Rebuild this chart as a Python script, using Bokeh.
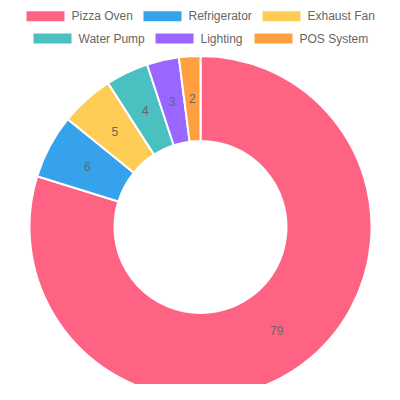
import math
from bokeh.plotting import figure
from bokeh.models import Range1d, ColumnDataSource
from bokeh.core.properties import value
from bokeh.embed import file_html
from bokeh.resources import INLINE

labels = ["Pizza Oven", "Refrigerator", "Exhaust Fan", "Water Pump", "Lighting", "POS System"]
values = [79, 6, 5, 4, 3, 2]
colors = ["#ff6384", "#36a2eb", "#ffcd56", "#4bc0c0", "#9966ff", "#ff9f40"]

# layout (picture pixel coordinates, y measured downward from top)
CX, CY = 200.0, 226.5
R_OUT, R_IN = 171.0, 86.0
W = 384.0
H = 384.0

p = figure(width=384, height=384, output_backend="svg", toolbar_location=None,
           x_range=Range1d(0, W), y_range=Range1d(0, H),
           min_border=0, outline_line_color=None)
p.axis.visible = False
p.grid.visible = False
p.background_fill_color = "white"
p.border_fill_color = "white"

total = float(sum(values))
starts, ends, tx, ty = [], [], [], []
cum = 0.0
for v in values:
    a0 = math.pi / 2 - cum / total * 2 * math.pi
    a1 = math.pi / 2 - (cum + v) / total * 2 * math.pi
    starts.append(a0)
    ends.append(a1)
    mid = (a0 + a1) / 2
    rm = (R_IN + R_OUT) / 2
    tx.append(CX + rm * math.cos(mid))
    ty.append(H - CY + rm * math.sin(mid))
    cum += v

src = ColumnDataSource(dict(start=starts, end=ends, color=colors,
                            tx=tx, ty=ty, txt=[str(v) for v in values]))
p.annular_wedge(x=CX, y=H - CY, inner_radius=R_IN, outer_radius=R_OUT,
                start_angle="start", end_angle="end", direction="clock",
                fill_color="color", line_color="white", line_width=2, source=src)
p.text(x="tx", y="ty", text="txt", source=src, text_align="center",
       text_baseline="middle", text_font=value("Liberation Sans"),
       text_font_size="12px", text_color="#666666")

# legend (manual, Chart.js-like)
box_x = [26, 143, 262, 33, 155, 254]
row_y = [15.7, 15.7, 15.7, 38, 38, 38]
leg = ColumnDataSource(dict(bx=[b + 19 for b in box_x], by=[H - y for y in row_y],
                            lx=[b + 45 for b in box_x], color=colors, name=labels))
p.rect(x="bx", y="by", width=38, height=10, fill_color="color", line_color=None, source=leg)
p.text(x="lx", y="by", text="name", source=leg, text_align="left",
       text_baseline="middle", text_font=value("Liberation Sans"),
       text_font_size="12px", text_color="#666666")

open("out.html", "w").write(file_html(p, INLINE))
